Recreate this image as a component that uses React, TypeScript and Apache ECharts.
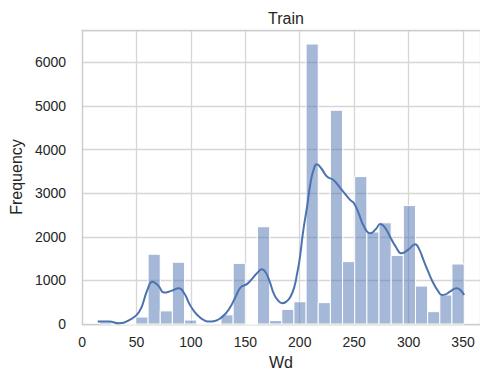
import React, { useEffect, useRef } from "react";
import * as echarts from "echarts";

const titleText = "Train";
const xName = "Wd";
const yName = "Frequency";

// Histogram bins (30 equal bins between binStart and binEnd)
const binStart = 16;
const binEnd = 351;
const counts = [
  45, 0, 0, 160, 1600, 300, 1415, 90, 0, 0,
  210, 1390, 0, 2230, 80, 335, 510, 6420, 490, 4900,
  1430, 3380, 2110, 2320, 1570, 2715, 870, 283, 665, 1375,
];

// KDE curve (scaled to counts)
const kdeX = [
  14.4, 25, 34, 43.4, 52.5, 60, 64.7, 70, 75.4, 82, 89, 94, 98.3, 103, 107.5,
  112, 117, 122, 127, 132, 136.5, 141, 145.7, 151.8, 157.9, 162, 165, 168, 172,
  176, 180, 184, 188, 191.5, 195, 197.6, 200, 203, 206.8, 210, 213, 215.6, 220,
  225, 231, 238.8, 246.5, 249.5, 254, 258.7, 264.8, 270, 274, 278, 283, 288,
  293.7, 300, 306, 310, 313.6, 318, 322.8, 327, 330.5, 334, 338, 344, 348, 351,
];
const kdeY = [
  55, 55, 15, 90, 280, 780, 970, 880, 720, 760, 820, 700, 475, 290, 170,
  90, 55, 70, 130, 240, 400, 620, 840, 920, 1085, 1200, 1255, 1210, 1000,
  705, 540, 475, 520, 625, 850, 1160, 1500, 2100, 2700, 3250, 3560, 3660, 3560,
  3380, 3300, 3070, 2840, 2780, 2550, 2250, 2080, 2180, 2290, 2220, 2000, 1780,
  1620, 1710, 1830, 1700, 1470, 1200, 935, 760, 665, 680, 740, 820, 770, 665,
];

const xMin = 0;
const xMax = 365.6;
const xInterval = 50;
const yMin = 0;
const yMax = 6741;
const yInterval = 1000;

const FONT = "Liberation Sans, Arial, sans-serif";
const TEXT = "#262626";
const SPINE = "#cccccc";

export default function App() {
  const ref = useRef<HTMLDivElement>(null);
  useEffect(() => {
    const chart = echarts.init(ref.current!, null, { renderer: "svg" });
    const w = (binEnd - binStart) / counts.length;
    const barData = counts.map((c, i) => [binStart + i * w, binStart + (i + 1) * w, c]);
    const kdeData = kdeX.map((x, i) => [x, kdeY[i]]);
    chart.setOption({
      animation: false,
      backgroundColor: "#ffffff",
      title: {
        text: titleText,
        left: 281,
        top: 5,
        textAlign: "center",
        textStyle: { fontFamily: FONT, fontSize: 16, fontWeight: "normal", color: TEXT },
      },
      grid: {
        left: 81,
        top: 30,
        right: 0,
        bottom: 51,
        show: false,
      },
      xAxis: [
        {
          type: "value",
          min: xMin,
          max: xMax,
          interval: xInterval,
          name: xName,
          nameLocation: "middle",
          nameGap: 30,
          nameTextStyle: { fontFamily: FONT, fontSize: 16, color: TEXT },
          axisLine: { show: true, lineStyle: { color: SPINE, width: 1.25 } },
          axisTick: { show: false },
          axisLabel: {
            fontFamily: FONT,
            fontSize: 14,
            color: TEXT,
            margin: 11,
            showMaxLabel: false,
            formatter: (v: number) => String(v),
          },
          splitLine: { show: true, lineStyle: { color: "#d6d6d6", width: 1.3 } },
        },
        {
          type: "value",
          position: "top",
          min: xMin,
          max: xMax,
          interval: xInterval,
          axisLine: { show: true, lineStyle: { color: SPINE, width: 1.25 } },
          axisTick: { show: false },
          axisLabel: { show: false },
          splitLine: { show: false },
        },
      ],
      yAxis: {
        type: "value",
        min: yMin,
        max: yMax,
        interval: yInterval,
        name: yName,
        nameLocation: "middle",
        nameGap: 52,
        nameTextStyle: { fontFamily: FONT, fontSize: 16, color: TEXT },
        axisLine: { show: true, lineStyle: { color: SPINE, width: 1.25 } },
        axisTick: { show: false },
        axisLabel: {
          fontFamily: FONT,
          fontSize: 14,
          color: TEXT,
          margin: 16,
          showMaxLabel: false,
          formatter: (v: number) => String(v),
        },
        splitLine: { show: true, lineStyle: { color: "#d6d6d6", width: 1.3 } },
      },
      series: [
        {
          type: "custom",
          data: barData,
          encode: { x: [0, 1], y: 2 },
          renderItem: (params: any, api: any) => {
            const p0 = api.coord([api.value(0), api.value(2)]);
            const p1 = api.coord([api.value(1), 0]);
            return {
              type: "rect",
              shape: { x: p0[0], y: p0[1], width: p1[0] - p0[0], height: p1[1] - p0[1] },
              style: { fill: "rgba(76,114,176,0.5)", stroke: "#ffffff", lineWidth: 1 },
            };
          },
          z: 2,
        },
        {
          type: "line",
          data: kdeData,
          smooth: 0.5,
          showSymbol: false,
          lineStyle: { color: "#4c72b0", width: 2 },
          z: 3,
        },
      ],
    });
    return () => chart.dispose();
  }, []);
  return (
    <div
      ref={ref}
      style={{ position: "fixed", left: 0, top: 0, width: 480, height: 375 }}
    />
  );
}
